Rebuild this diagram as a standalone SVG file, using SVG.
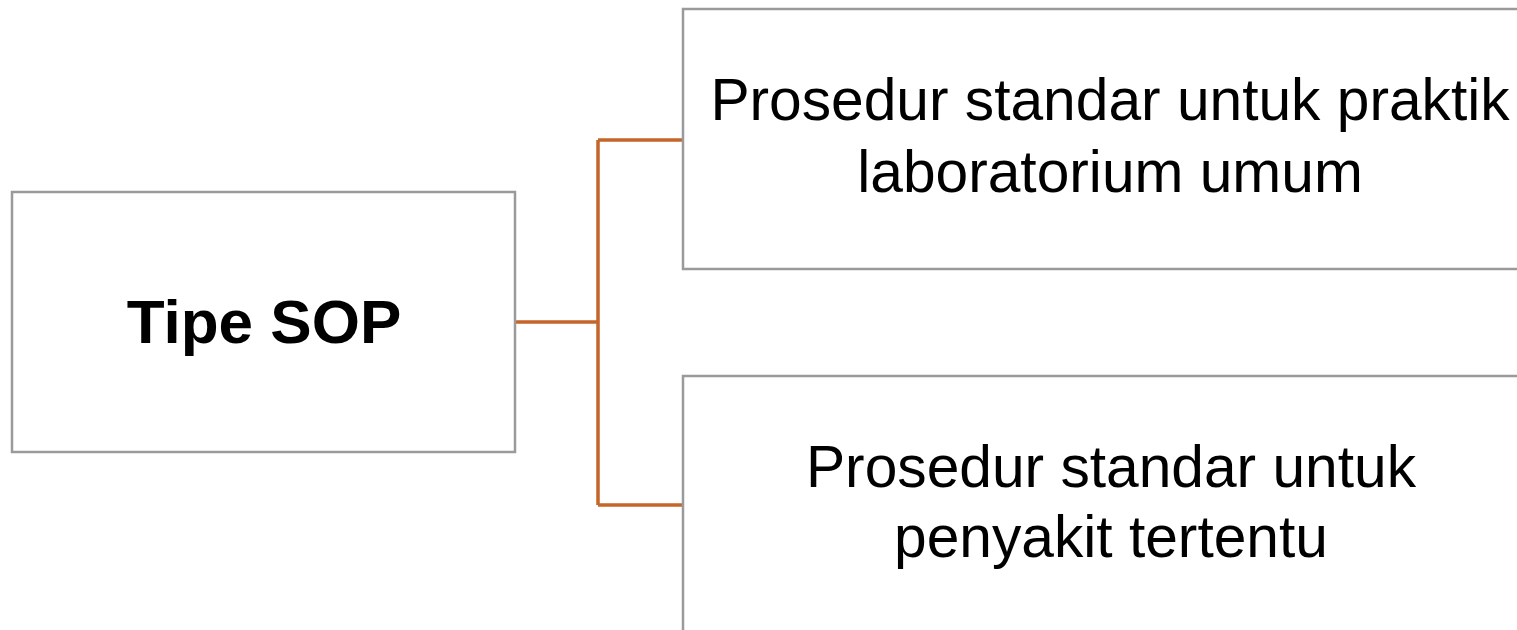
<svg xmlns="http://www.w3.org/2000/svg" width="1517" height="630" viewBox="0 0 1517 630">
<style>
.box{fill:#ffffff;stroke:#9a9a9a;stroke-width:2.5}
.t{font-family:"Liberation Sans",Arial,sans-serif;font-size:58.7px;fill:#000;text-anchor:middle}
.b{font-family:"Liberation Sans",Arial,sans-serif;font-size:62px;font-weight:bold;fill:#000;text-anchor:middle}
.c{fill:none;stroke:#C5652A;stroke-width:3.5}
</style>
<rect width="1517" height="630" fill="#ffffff"/>
<g id="connectors">
<path class="c" d="M515 322 H598 M598 140 V505 M598 140 H683 M598 505 H683"/>
</g>
<g id="node-tipe-sop">
<rect class="box" x="12" y="192" width="503" height="260"/>
<text class="b" x="264" y="343">Tipe SOP</text>
</g>
<g id="node-praktik">
<rect class="box" x="683" y="9" width="850" height="260"/>
<text class="t" x="1110" y="120">Prosedur standar untuk praktik</text>
<text class="t" x="1110" y="192">laboratorium umum</text>
</g>
<g id="node-penyakit">
<rect class="box" x="683" y="376" width="850" height="280"/>
<text class="t" x="1111" y="487">Prosedur standar untuk</text>
<text class="t" x="1111" y="557">penyakit tertentu</text>
</g>
</svg>
